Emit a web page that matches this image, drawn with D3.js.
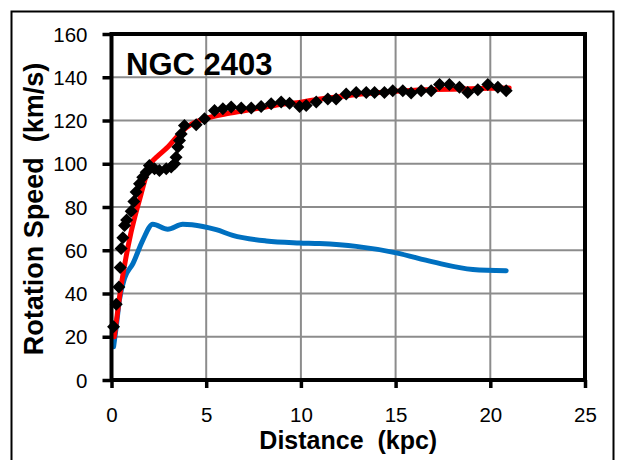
<!DOCTYPE html>
<html>
<head>
<meta charset="utf-8">
<script src="https://cdn.jsdelivr.net/npm/d3@7/dist/d3.min.js"></script>
<style>
  html, body { margin: 0; padding: 0; background: #fff; }
  svg { display: block; }
  text { font-family: "Liberation Sans", Arial, sans-serif; fill: #000; }
</style>
</head>
<body>
<svg id="chart" width="618" height="460"></svg>
<script>
// ---- Data ----
const chartTitle = "NGC 2403";
const xTitle = "Distance  (kpc)";
const yTitle = "Rotation Speed  (km/s)";
const xTicks = [0, 5, 10, 15, 20, 25];
const yTicks = [0, 20, 40, 60, 80, 100, 120, 140, 160];

// observed rotation speeds (black diamonds)
const obsDist = [0.11, 0.25, 0.39, 0.46, 0.51, 0.6, 0.69, 0.8, 1.04, 1.18, 1.3, 1.48, 1.65, 1.83, 2.0,
  2.27, 2.53, 2.89, 3.15, 3.33, 3.41, 3.5, 3.59, 3.68, 3.85, 4.47, 4.91, 5.44, 5.88, 6.32, 6.85,
  7.38, 7.9, 8.43, 8.96, 9.4, 9.93, 10.28, 10.81, 11.42, 11.86, 12.39, 12.92, 13.45, 13.89, 14.41,
  14.85, 15.38, 15.82, 16.35, 16.88, 17.32, 17.84, 18.37, 18.81, 19.34, 19.87, 20.4, 20.84];
const obsSpeed = [24.6, 35, 43, 52, 60.8, 65.8, 71.5, 74, 78, 82.5, 86.9, 90.7, 93.8, 96.1, 99.2,
  97.7, 96.9, 97.7, 98.5, 100, 103, 107.7, 110.8, 113.8, 117.7, 118, 120.8, 124.6, 125.4, 126.2, 125.8,
  125.8, 126.5, 127.7, 128.5, 128, 126.5, 126.9, 128.5, 130, 130, 132.3, 133, 133, 133, 133,
  133.8, 133.8, 132.7, 133.8, 133.8, 136.6, 136.6, 135.4, 133, 134.2, 136.6, 135.4, 133.8];

// model fit (red)
const fitDist = [0.15, 0.3, 0.5, 0.75, 1.0, 1.25, 1.5, 1.75, 2.0, 2.5, 3.0, 3.5, 4.0, 4.5, 5, 6, 7, 8, 9,
  10, 11, 12, 13, 14, 15, 16, 17, 18, 19, 20, 21];
const fitSpeed = [20, 30, 43, 56, 67, 76, 84, 92, 99, 104, 108, 113, 117, 119.5, 121, 123, 124.5, 126, 127.5,
  128.5, 130, 131, 132, 132.8, 133.5, 134, 134.3, 134.5, 134.7, 134.9, 135];

// visible-matter component (blue)
const visDist = [0.11, 0.25, 0.42, 0.69, 1.13, 1.65, 2.18, 2.97, 3.76, 4.82, 5.53, 6.4, 8.17, 9.93,
  10.98, 12.92, 15.03, 16.97, 19.08, 20.84];
const visSpeed = [15.4, 24.6, 37, 47, 53.8, 64.6, 72, 69.7, 72, 71, 69.5, 66.9, 64.3, 63.4,
  63.1, 61.8, 58.8, 54.6, 51.1, 50.5];

// ---- Layout ----
const svg = d3.select("#chart");
const mLeft = 111.5, mRight = 585, mTop = 34, mBottom = 380;
const x = d3.scaleLinear().domain([0, 25]).range([mLeft, mRight]);
const y = d3.scaleLinear().domain([0, 160]).range([mBottom, mTop]);

// outer frame
svg.append("rect").attr("x", 11.5).attr("y", 11.5).attr("width", 602).attr("height", 460)
  .attr("fill", "none").attr("stroke", "#000").attr("stroke-width", 2);

// grid
const grid = svg.append("g");
grid.selectAll("line.h").data(yTicks.filter(d => d > 0 && d < 160)).enter().append("line")
  .attr("x1", mLeft).attr("x2", mRight).attr("y1", d => y(d)).attr("y2", d => y(d))
  .attr("stroke", "#8c8c8c").attr("stroke-width", 2);
grid.selectAll("line.v").data(xTicks.filter(d => d > 0 && d < 25)).enter().append("line")
  .attr("y1", mTop).attr("y2", mBottom).attr("x1", d => x(d)).attr("x2", d => x(d))
  .attr("stroke", "#8c8c8c").attr("stroke-width", 2);

// lines
const line = (xs, ys) => d3.line().x((d, i) => x(xs[i])).y((d, i) => y(ys[i])).curve(d3.curveMonotoneX)(xs);
svg.append("path").attr("d", line(visDist, visSpeed)).attr("fill", "none")
  .attr("stroke", "#0070C0").attr("stroke-width", 5).attr("stroke-linecap", "round").attr("stroke-linejoin", "round");
svg.append("path").attr("d", line(fitDist, fitSpeed)).attr("fill", "none")
  .attr("stroke", "#FF0000").attr("stroke-width", 5).attr("stroke-linecap", "round").attr("stroke-linejoin", "round");

// diamonds
svg.append("g").selectAll("path").data(obsDist).enter().append("path")
  .attr("transform", (d, i) => `translate(${x(d)},${y(obsSpeed[i])})`)
  .attr("d", "M0,-6.5L6.5,0L0,6.5L-6.5,0Z").attr("fill", "#000");

// axes (frame of plot)
svg.append("rect").attr("x", mLeft).attr("y", mTop).attr("width", mRight - mLeft).attr("height", mBottom - mTop)
  .attr("fill", "none").attr("stroke", "#000").attr("stroke-width", 4);
const xAxis = d3.axisBottom(x).tickValues(xTicks).tickSize(8).tickFormat(d3.format("d"));
const yAxis = d3.axisLeft(y).tickValues(yTicks).tickSize(9).tickFormat(d3.format("d"));
const gx = svg.append("g").attr("transform", `translate(0,${mBottom})`).call(xAxis);
const gy = svg.append("g").attr("transform", `translate(${mLeft},0)`).call(yAxis);
[gx, gy].forEach(g => {
  g.select(".domain").remove();
  g.selectAll(".tick line").attr("stroke", "#000").attr("stroke-width", 3.5);
  g.selectAll(".tick text").style("font-family", "'Liberation Sans', Arial, sans-serif")
    .style("font-size", "20.5px").attr("fill", "#000");
});
gx.selectAll(".tick text").attr("y", 27.5).attr("dy", "0.71em");
gy.selectAll(".tick text").attr("x", -24).attr("dy", "0.35em");

// titles
svg.append("text").attr("x", 126).attr("y", 75).text(chartTitle)
  .style("font-size", "31px").style("font-weight", "bold");
svg.append("text").attr("x", (mLeft + mRight) / 2).attr("y", 449).attr("text-anchor", "middle")
  .text(xTitle).style("font-size", "25px").style("font-weight", "bold").style("white-space", "pre");
svg.append("text").attr("transform", "translate(43,209) rotate(-90)").attr("text-anchor", "middle")
  .text(yTitle).style("font-size", "27px").style("font-weight", "bold").style("white-space", "pre");
</script>
</body>
</html>
